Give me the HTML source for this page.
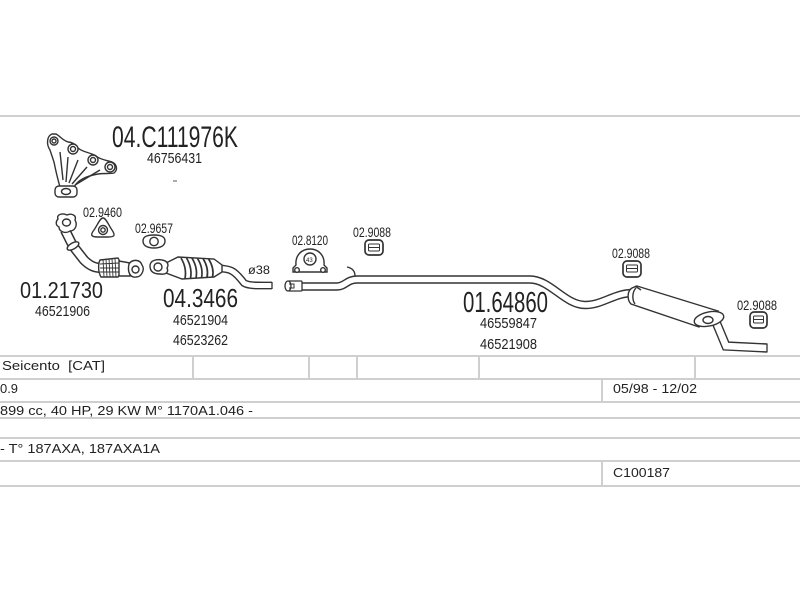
<!DOCTYPE html>
<html>
<head>
<meta charset="utf-8">
<style>
  html,body{margin:0;padding:0;background:#fff;}
  svg{display:block;}
  text{font-family:"Liberation Sans",Arial,sans-serif;fill:#222;}
</style>
</head>
<body>
<svg width="800" height="600" viewBox="0 0 800 600" xmlns="http://www.w3.org/2000/svg">
  <rect width="800" height="600" fill="#fff"/>
  <line x1="0" y1="116" x2="800" y2="116" stroke="#cfcfcf" stroke-width="2"/>

  <!-- Manifold -->
  <g stroke="#333" stroke-width="1.4" fill="#fff">
    <path d="M52 134 C47 136 46 144 50 150 L54 162 C56 172 58 180 60 187 L74 187 C78 180 86 176 98 174 C105 173 110 174 114 173 C118 170 117 164 112 162 C106 160 101 160 96 156 C90 152 84 153 78 148 C75 144 72 142 68 142 C62 140 60 136 56 134 Z"/>
    <circle cx="54" cy="141" r="4"/><circle cx="54" cy="141" r="2"/>
    <circle cx="73" cy="149" r="5"/><circle cx="73" cy="149" r="2.5"/>
    <circle cx="93" cy="160" r="5"/><circle cx="93" cy="160" r="2.5"/>
    <circle cx="110" cy="167" r="5"/><circle cx="110" cy="167" r="2.5"/>
    <path d="M60 152 L63 180 M68 157 L66 182 M78 160 L69 183 M87 167 L72 184 M100 170 L75 185" fill="none"/>
    <rect x="55" y="186" width="22" height="11" rx="4"/>
    <ellipse cx="66" cy="191.5" rx="4.5" ry="3"/>
  </g>
  <line x1="173" y1="181" x2="177" y2="181" stroke="#555" stroke-width="1"/>

  <!-- Gasket 02.9460 -->
  <g stroke="#333" stroke-width="1.4" fill="#fff">
    <path d="M103 218 C106 218 108 224 112 230 C116 236 114 237 108 237 L98 237 C91 237 90 235 94 230 C98 224 100 218 103 218 Z"/>
    <circle cx="103" cy="230" r="4.5"/>
    <circle cx="103" cy="230" r="2.2"/>
  </g>

  <!-- Gasket 02.9657 -->
  <g stroke="#333" stroke-width="1.4" fill="#fff">
    <path d="M143 241 C143 236 148 235 154 235 C160 235 165 236 165 241 C165 246 160 248 154 248 C148 248 143 246 143 241 Z"/>
    <circle cx="154" cy="241.5" r="4.2"/>
  </g>

  <!-- Front pipe -->
  <path d="M65 230 L73 246 L84 260 C90 266 95 268 102 268" fill="none" stroke="#333" stroke-width="10.4"/>
  <path d="M65 230 L73 246 L84 260 C90 266 95 268 102 268" fill="none" stroke="#fff" stroke-width="7.4"/>
  <g stroke="#333" stroke-width="1.4" fill="#fff">
    <path d="M58 219 C56 214 63 213 67 215 C71 213 77 215 75 220 C78 225 75 231 70 231 C66 234 59 232 59 227 C55 225 56 221 58 219 Z"/>
    <ellipse cx="66.5" cy="222.5" rx="4" ry="3.5"/>
    <ellipse cx="73" cy="246" rx="6.5" ry="3" transform="rotate(-30 73 246)"/>
    <path d="M100 260 L118 258 C121 262 121 273 118 277 L101 277 C98 272 98 264 100 260 Z"/>
    <path d="M103 259 L104 277 M106 259 L107 277 M109 258.5 L110 277 M112 258.5 L113 277 M115 258 L116 277 M100 264 L119 263 M100 268 L120 268 M100 272 L120 272" fill="none" stroke-width="0.9"/>
    <path d="M119 261 L130 263 L130 276 L119 276 Z"/>
    <path d="M129 264 C132 259 140 259 142 265 C145 269 142 277 136 277 C131 278 127 273 129 264 Z"/>
    <ellipse cx="135.5" cy="269.5" rx="3.5" ry="3.5"/>
  </g>

  <!-- Catalyst -->
  <path d="M218 268.5 C230 268.5 234 270 244 283 C249 286 258 285.5 272 285.5" fill="none" stroke="#333" stroke-width="7.8"/>
  <path d="M218 268.5 C230 268.5 234 270 244 283 C249 286 258 285.5 272 285.5" fill="none" stroke="#fff" stroke-width="5"/>
  <line x1="272" y1="282" x2="272" y2="289" stroke="#333" stroke-width="1.3"/>
  <g stroke="#333" stroke-width="1.4" fill="#fff">
    <path d="M166 263 L178 257 L214 259 L222 265 L222 272 L214 277 L182 279 L166 273 Z"/>
    <path d="M181 258 Q187 268 185 278.5 M186.5 258 Q192.5 268 190.5 278.4 M192 258.2 Q198 268 196 278.2 M197.5 258.4 Q203.5 268 201.5 278 M203 258.6 Q209 268 207 277.6 M208.5 258.8 Q214.5 268 212.5 277.3" fill="none" stroke-width="1.7"/>
    <path d="M150 266 C150 260 157 259 162 260 C168 261 169 265 167 268 C169 272 166 275 160 274 C153 274 150 271 150 266 Z"/>
    <circle cx="158" cy="267" r="4"/>
  </g>

  <!-- Clamp 02.8120 -->
  <g stroke="#333" stroke-width="1.4" fill="#fff">
    <path d="M296 265 C295 255 302 249 310 249 C318 249 325 255 324 265 L327 268 L327 272 L293 272 L293 268 Z"/>
    <circle cx="297" cy="270" r="2.3"/>
    <circle cx="323" cy="270" r="2.3"/>
    <circle cx="310" cy="259" r="6"/>
  </g>
  <text x="306" y="262" font-size="6">43</text>

  <!-- Mounts -->
  <g stroke="#333" stroke-width="1.7" fill="#fff">
    <rect x="365" y="240" width="18" height="15" rx="4"/>
    <rect x="368.5" y="244" width="11" height="7" rx="1" stroke-width="1"/>
    <line x1="368" y1="247.5" x2="380" y2="247.5" stroke-width="1"/>
    <rect x="623" y="261" width="18" height="16" rx="4"/>
    <rect x="626.5" y="265" width="11" height="7" rx="1" stroke-width="1"/>
    <line x1="626" y1="268.5" x2="638" y2="268.5" stroke-width="1"/>
    <rect x="750" y="312" width="17" height="16" rx="4"/>
    <rect x="753.5" y="316" width="10" height="7" rx="1" stroke-width="1"/>
    <line x1="753" y1="319.5" x2="764" y2="319.5" stroke-width="1"/>
  </g>

  <!-- Main pipe -->
  <path d="M300 286.5 L337 286.5 C345 286.5 347 279.5 357 279.5 L530 279.5 C550 279.5 565 305 585 305 C603 305 614 293 633 293" fill="none" stroke="#333" stroke-width="8.4"/>
  <path d="M300 286.5 L337 286.5 C345 286.5 347 279.5 357 279.5 L530 279.5 C550 279.5 565 305 585 305 C603 305 614 293 633 293" fill="none" stroke="#fff" stroke-width="5.6"/>
  <g stroke="#333" stroke-width="1.3" fill="#fff">
    <rect x="288" y="281" width="14" height="10" rx="1"/>
    <ellipse cx="288" cy="286" rx="3" ry="5"/>
    <path d="M289 284 L294 284 L294 288 L289 288" fill="none" stroke-width="1"/>
  </g>
  <path d="M347 267 C352 268 355 271 355 276" fill="none" stroke="#333" stroke-width="1.4"/>

  <!-- Rear muffler -->
  <path d="M716 322 L726 346 L767 348" fill="none" stroke="#333" stroke-width="9.4"/>
  <path d="M716 322 L726 346 L767 348" fill="none" stroke="#fff" stroke-width="6.6"/>
  <line x1="767" y1="343.5" x2="767" y2="352.5" stroke="#333" stroke-width="1.3"/>
  <g stroke="#333" stroke-width="1.4" fill="#fff">
    <path d="M637 286 L718 311 L699 327 L631 304 C627 300 627 291 632 288 Z"/>
    <path d="M636 288 C632 292 632 300 635 304" fill="none"/>
    <ellipse cx="709" cy="319" rx="15" ry="7" transform="rotate(-12 709 319)"/>
    <ellipse cx="708" cy="320" rx="5" ry="3.5"/>
    <path d="M635 286 L641 290" fill="none"/>
  </g>

  <!-- Labels -->
  <text x="112" y="147" font-size="30" textLength="126" lengthAdjust="spacingAndGlyphs">04.C111976K</text>
  <text x="147" y="163" font-size="15" textLength="55" lengthAdjust="spacingAndGlyphs">46756431</text>
  <text x="83" y="217" font-size="14" textLength="39" lengthAdjust="spacingAndGlyphs">02.9460</text>
  <text x="135" y="233" font-size="14" textLength="38" lengthAdjust="spacingAndGlyphs">02.9657</text>
  <text x="20" y="298" font-size="23" textLength="83" lengthAdjust="spacingAndGlyphs">01.21730</text>
  <text x="35" y="316" font-size="15" textLength="55" lengthAdjust="spacingAndGlyphs">46521906</text>
  <text x="163" y="307" font-size="26" textLength="75" lengthAdjust="spacingAndGlyphs">04.3466</text>
  <text x="173" y="325" font-size="15" textLength="55" lengthAdjust="spacingAndGlyphs">46521904</text>
  <text x="173" y="345" font-size="15" textLength="55" lengthAdjust="spacingAndGlyphs">46523262</text>
  <text x="248" y="274" font-size="12" textLength="22" lengthAdjust="spacingAndGlyphs">ø38</text>
  <text x="292" y="245" font-size="14" textLength="36" lengthAdjust="spacingAndGlyphs">02.8120</text>
  <text x="353" y="237" font-size="14" textLength="38" lengthAdjust="spacingAndGlyphs">02.9088</text>
  <text x="463" y="312" font-size="29" textLength="85" lengthAdjust="spacingAndGlyphs">01.64860</text>
  <text x="480" y="328" font-size="15" textLength="57" lengthAdjust="spacingAndGlyphs">46559847</text>
  <text x="480" y="349" font-size="15" textLength="57" lengthAdjust="spacingAndGlyphs">46521908</text>
  <text x="612" y="258" font-size="14" textLength="38" lengthAdjust="spacingAndGlyphs">02.9088</text>
  <text x="737" y="310" font-size="14" textLength="40" lengthAdjust="spacingAndGlyphs">02.9088</text>

  <!-- Table -->
  <g stroke="#cfcfcf" stroke-width="2">
    <line x1="0" y1="356" x2="800" y2="356"/>
    <line x1="0" y1="379" x2="800" y2="379"/>
    <line x1="0" y1="402" x2="800" y2="402"/>
    <line x1="0" y1="418" x2="800" y2="418"/>
    <line x1="0" y1="438" x2="800" y2="438"/>
    <line x1="0" y1="461" x2="800" y2="461"/>
    <line x1="0" y1="486" x2="800" y2="486"/>
    <line x1="193" y1="356" x2="193" y2="379"/>
    <line x1="309" y1="356" x2="309" y2="379"/>
    <line x1="357" y1="356" x2="357" y2="379"/>
    <line x1="479" y1="356" x2="479" y2="379"/>
    <line x1="695" y1="356" x2="695" y2="379"/>
    <line x1="602" y1="379" x2="602" y2="402"/>
    <line x1="602" y1="461" x2="602" y2="486"/>
  </g>
  <text x="2" y="370" font-size="12.5" textLength="103" lengthAdjust="spacingAndGlyphs">Seicento&#160; [CAT]</text>
  <text x="0" y="393" font-size="12.5" textLength="18" lengthAdjust="spacingAndGlyphs">0.9</text>
  <text x="0" y="415" font-size="12.5" textLength="253" lengthAdjust="spacingAndGlyphs">899 cc, 40 HP, 29 KW M° 1170A1.046 -</text>
  <text x="0" y="453" font-size="12.5" textLength="160" lengthAdjust="spacingAndGlyphs">- T° 187AXA, 187AXA1A</text>
  <text x="613" y="393" font-size="12.5" textLength="84" lengthAdjust="spacingAndGlyphs">05/98 - 12/02</text>
  <text x="613" y="477" font-size="12.5" textLength="57" lengthAdjust="spacingAndGlyphs">C100187</text>
</svg>
</body>
</html>
